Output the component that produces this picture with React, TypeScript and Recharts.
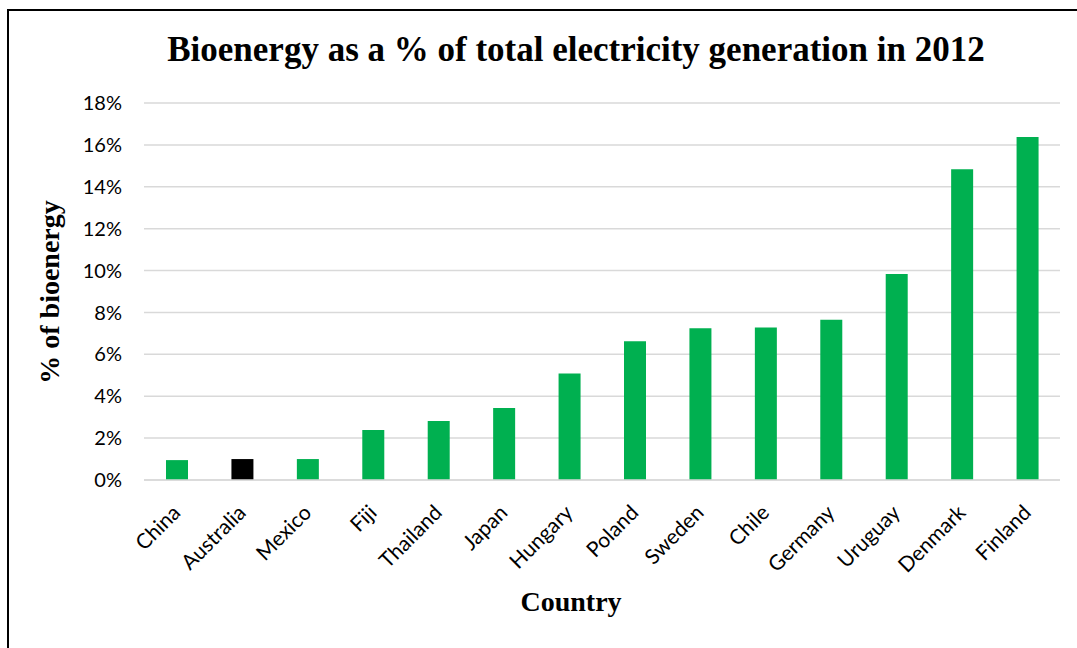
import { BarChart, Bar, XAxis, YAxis, CartesianGrid, Cell } from 'recharts';

const countries = ['China', 'Australia', 'Mexico', 'Fiji', 'Thailand', 'Japan', 'Hungary', 'Poland', 'Sweden', 'Chile', 'Germany', 'Uruguay', 'Denmark', 'Finland'];
const bioShare = [0.95, 1.0, 1.0, 2.39, 2.82, 3.44, 5.09, 6.62, 7.24, 7.28, 7.65, 9.83, 14.84, 16.38];
const yTicks = [0, 2, 4, 6, 8, 10, 12, 14, 16, 18];
const highlight = 'Australia';

const data = countries.map((c, i) => ({ country: c, share: bioShare[i] }));

const serif = '"Liberation Serif", "Times New Roman", serif';
const sans = 'Lato, Calibri, sans-serif';

const CountryTick = ({ x, y, payload }: any) => (
  <text
    x={x + 5}
    y={y + 32}
    transform={`rotate(-45 ${x + 5} ${y + 32})`}
    textAnchor="end"
    fontFamily={sans}
    fontSize={21}
    fill="#000"
  >
    {payload.value}
  </text>
);

export default function App() {
  return (
    <div style={{ position: 'relative', width: 1077, height: 648, overflow: 'hidden', background: '#fff' }}>
      <style>{'body{margin:0;overflow:hidden}'}</style>
      {/* chart frame, only top and left edges are visible */}
      <div style={{ position: 'absolute', left: 7, top: 9, width: 1100, height: 700, borderLeft: '2px solid #000', borderTop: '2px solid #000' }} />
      <BarChart
        width={1077}
        height={648}
        data={data}
        margin={{ top: 103, right: 17, bottom: 0, left: 0 }}
        style={{ position: 'absolute', left: 0, top: 0 }}
      >
        <CartesianGrid vertical={false} stroke="#d9d9d9" strokeWidth={1.5} />
        <XAxis
          dataKey="country"
          height={168}
          interval={0}
          tickLine={false}
          tickSize={0}
          axisLine={{ stroke: '#d9d9d9', strokeWidth: 1.5 }}
          tick={<CountryTick />}
        />
        <YAxis
          width={144}
          domain={[0, 18]}
          ticks={yTicks}
          tickFormatter={(v: number) => `${v}%`}
          axisLine={false}
          tickLine={false}
          tickSize={0}
          tickMargin={22}
          tick={{ fontFamily: sans, fontSize: 20, fill: '#000' }}
        />
        <Bar dataKey="share" barSize={22} isAnimationActive={false}>
          {data.map((d) => (
            <Cell key={d.country} fill={d.country === highlight ? '#000000' : '#00b050'} />
          ))}
        </Bar>
      </BarChart>
      <div
        style={{
          position: 'absolute',
          left: 576,
          top: 32,
          transform: 'translateX(-50%)',
          whiteSpace: 'nowrap',
          fontFamily: serif,
          fontWeight: 'bold',
          fontSize: 35,
          lineHeight: '35px',
        }}
      >
        Bioenergy as a % of total electricity generation in 2012
      </div>
      <div
        style={{
          position: 'absolute',
          left: 50,
          top: 292,
          transform: 'translate(-50%, -50%) rotate(-90deg)',
          whiteSpace: 'nowrap',
          fontFamily: serif,
          fontWeight: 'bold',
          fontSize: 28,
          lineHeight: '28px',
        }}
      >
        % of bioenergy
      </div>
      <div
        style={{
          position: 'absolute',
          left: 571,
          top: 588,
          transform: 'translateX(-50%)',
          whiteSpace: 'nowrap',
          fontFamily: serif,
          fontWeight: 'bold',
          fontSize: 28,
          lineHeight: '28px',
        }}
      >
        Country
      </div>
    </div>
  );
}
